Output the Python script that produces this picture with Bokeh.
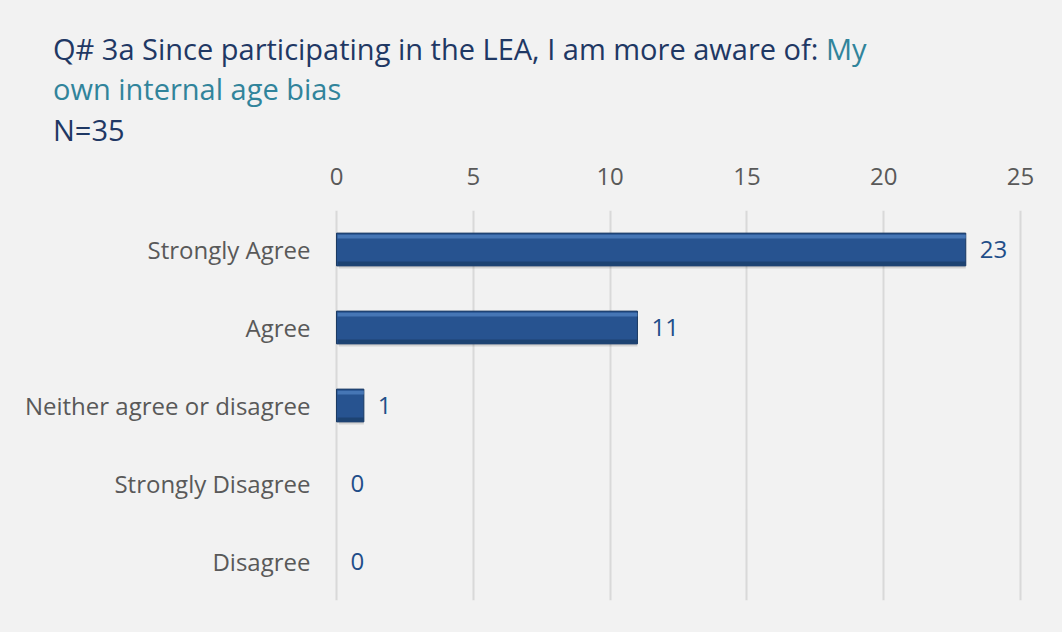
from bokeh.plotting import figure
from bokeh.models import ColumnDataSource, FixedTicker, Range1d, FactorRange, Div
from bokeh.layouts import column
from bokeh.transform import dodge
from bokeh.core.properties import value
from bokeh.embed import file_html
from bokeh.resources import INLINE

categories = ["Strongly Agree", "Agree", "Neither agree or disagree", "Strongly Disagree", "Disagree"]
counts = [23, 11, 1, 0, 0]
x_ticks = [0, 5, 10, 15, 20, 25]
title_main = "Q# 3a Since participating in the LEA, I am more aware of:"
title_part1 = "My"
title_part2 = "own internal age bias"
title_n = "N=35"

FONT = "Open Sans"
W = 1062
DIV_H = 150
FIG_H = 632 - DIV_H
PAD = 6
PX_PER_UNIT = (1020 - 336) / 25.0
BL, BR, BT, BB = 336 - PAD, 42 - PAD, 60, 32

title_html = (
    f'<div style="font-family:\'{FONT}\';font-size:29px;line-height:40px;color:#1f3864;'
    f'white-space:nowrap;padding:29px 0 0 53px;">'
    f'{title_main} <span style="color:#31849b">{title_part1}<br>{title_part2}</span>'
    f'<div style="margin-top:1px;">{title_n}</div></div>'
)
header = Div(text=title_html, width=W, height=DIV_H,
             styles={"background-color": "#f2f2f2", "margin": "0", "padding": "0"})

factors = list(reversed(categories))
p = figure(width=W, height=FIG_H, y_range=FactorRange(*factors, range_padding=0),
           x_range=Range1d(-PAD / PX_PER_UNIT, 25 + PAD / PX_PER_UNIT), x_axis_location="above",
           output_backend="svg", toolbar_location=None,
           min_border_left=BL, min_border_right=BR, min_border_top=BT, min_border_bottom=BB,
           background_fill_color="#f2f2f2", border_fill_color="#f2f2f2")
p.outline_line_color = None

src_all = ColumnDataSource(dict(cat=categories, v=counts, lbl=[str(c) for c in counts]))
nz = [(c, v) for c, v in zip(categories, counts) if v > 0]
src_bar = ColumnDataSource(dict(cat=[c for c, _ in nz], v=[v for _, v in nz]))

bh = 0.42
p.hbar(y=dodge("cat", -0.035, range=p.y_range), left=0.08, right="v", height=bh, source=src_bar,
       fill_color="#000000", fill_alpha=0.12, line_color=None)
p.hbar(y="cat", left=0, right="v", height=bh, source=src_bar,
       fill_color="#275390", line_color="#1b3a63", line_width=1)
p.hbar(y=dodge("cat", bh / 2 - 0.045, range=p.y_range), left=0.04, right="v", height=0.05, source=src_bar,
       fill_color="#4f7fbe", fill_alpha=0.8, line_color=None)
p.hbar(y=dodge("cat", -bh / 2 + 0.035, range=p.y_range), left=0.04, right="v", height=0.045, source=src_bar,
       fill_color="#1d416f", fill_alpha=0.9, line_color=None)

p.text(x="v", y="cat", text="lbl", source=src_all, x_offset=14,
       text_align="left", text_baseline="middle",
       text_font=value(FONT), text_font_size="24px", text_color="#1f4e89")

xa = p.xaxis[0]
xa.ticker = FixedTicker(ticks=x_ticks)
xa.axis_line_color = None
xa.major_tick_line_color = None
xa.minor_tick_line_color = None
xa.major_label_text_font = FONT
xa.major_label_text_font_size = "24px"
xa.major_label_text_color = "#595959"
xa.major_label_standoff = 20

ya = p.yaxis[0]
ya.axis_line_color = None
ya.major_tick_line_color = None
ya.minor_tick_line_color = None
ya.major_label_text_font = FONT
ya.major_label_text_font_size = "24px"
ya.major_label_text_color = "#595959"
ya.major_label_standoff = 20 - PAD

p.xgrid.grid_line_color = "#d9d9d9"
p.xgrid.grid_line_width = 2
p.ygrid.grid_line_color = None

layout = column(header, p, spacing=0, styles={"background-color": "#f2f2f2"})

open("out.html", "w").write(file_html(layout, INLINE))
